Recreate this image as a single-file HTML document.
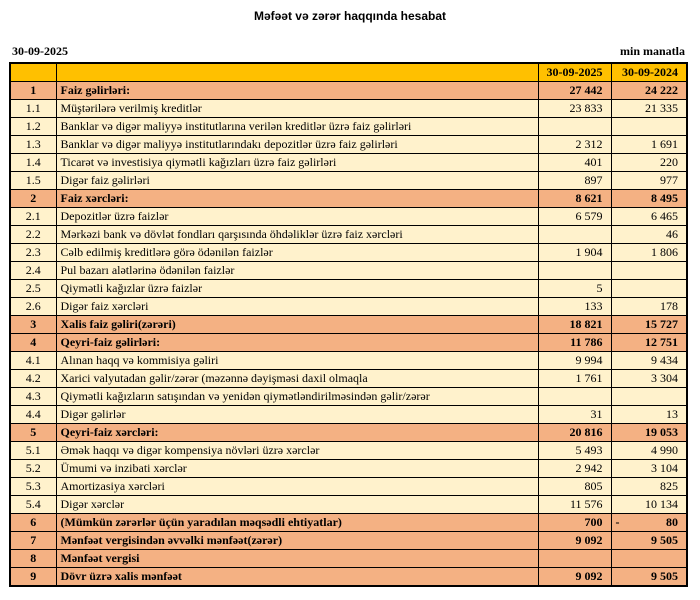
<!DOCTYPE html>
<html><head><meta charset="utf-8"><style>
body{margin:0;width:700px;height:600px;background:#fff;position:relative;font-family:"Liberation Serif",serif;}
.t{position:absolute;top:9px;left:0;width:700px;text-align:center;font:bold 12px "Liberation Sans",sans-serif;}
.d{position:absolute;top:44px;left:12px;font-weight:bold;font-size:12px;}
.m{position:absolute;top:44px;right:15px;font-weight:bold;font-size:12px;}
table{position:absolute;top:62px;left:9px;border-collapse:collapse;border:2px solid #000;width:677px;font-size:12px;table-layout:fixed;}
td{border:1px solid #000;height:17px;padding:0 4px;line-height:17px;white-space:nowrap;overflow:hidden;background:#FFF2CC;}
td:nth-child(1){text-align:center;}
td:nth-child(3),td:nth-child(4){text-align:right;padding-right:8px;}
tr.h td{background:#FFC000;font-weight:bold;}
tr.b td{background:#F4B183;font-weight:bold;}
</style></head><body>
<div class="t">Məfəət və zərər haqqında hesabat</div>
<div class="d">30-09-2025</div>
<div class="m">min manatla</div>
<table>
<colgroup><col style="width:46px"><col style="width:482px"><col style="width:73px"><col style="width:76px"></colgroup>
<tr class="h"><td></td><td></td><td>30-09-2025</td><td>30-09-2024</td></tr>
<tr class="b"><td>1</td><td>Faiz gəlirləri:</td><td>27 442</td><td>24 222</td></tr>
<tr><td>1.1</td><td>Müştərilərə verilmiş kreditlər</td><td>23 833</td><td>21 335</td></tr>
<tr><td>1.2</td><td>Banklar və digər maliyyə institutlarına verilən kreditlər üzrə faiz gəlirləri</td><td></td><td></td></tr>
<tr><td>1.3</td><td>Banklar və digər maliyyə institutlarındakı depozitlər üzrə faiz gəlirləri</td><td>2 312</td><td>1 691</td></tr>
<tr><td>1.4</td><td>Ticarət və investisiya qiymətli kağızları üzrə faiz gəlirləri</td><td>401</td><td>220</td></tr>
<tr><td>1.5</td><td>Digər faiz gəlirləri</td><td>897</td><td>977</td></tr>
<tr class="b"><td>2</td><td>Faiz xərcləri:</td><td>8 621</td><td>8 495</td></tr>
<tr><td>2.1</td><td>Depozitlər üzrə faizlər</td><td>6 579</td><td>6 465</td></tr>
<tr><td>2.2</td><td>Mərkəzi bank və dövlət fondları qarşısında öhdəliklər üzrə faiz xərcləri</td><td></td><td>46</td></tr>
<tr><td>2.3</td><td>Cəlb edilmiş kreditlərə görə ödənilən faizlər</td><td>1 904</td><td>1 806</td></tr>
<tr><td>2.4</td><td>Pul bazarı alətlərinə ödənilən faizlər</td><td></td><td></td></tr>
<tr><td>2.5</td><td>Qiymətli kağızlar üzrə faizlər</td><td>5</td><td></td></tr>
<tr><td>2.6</td><td>Digər faiz xərcləri</td><td>133</td><td>178</td></tr>
<tr class="b"><td>3</td><td>Xalis faiz gəliri(zərəri)</td><td>18 821</td><td>15 727</td></tr>
<tr class="b"><td>4</td><td>Qeyri-faiz gəlirləri:</td><td>11 786</td><td>12 751</td></tr>
<tr><td>4.1</td><td>Alınan haqq və kommisiya gəliri</td><td>9 994</td><td>9 434</td></tr>
<tr><td>4.2</td><td>Xarici valyutadan gəlir/zərər (məzənnə dəyişməsi daxil olmaqla</td><td>1 761</td><td>3 304</td></tr>
<tr><td>4.3</td><td>Qiymətli kağızların satışından və yenidən qiymətləndirilməsindən gəlir/zərər</td><td></td><td></td></tr>
<tr><td>4.4</td><td>Digər gəlirlər</td><td>31</td><td>13</td></tr>
<tr class="b"><td>5</td><td>Qeyri-faiz xərcləri:</td><td>20 816</td><td>19 053</td></tr>
<tr><td>5.1</td><td>Əmək haqqı və digər kompensiya növləri üzrə xərclər</td><td>5 493</td><td>4 990</td></tr>
<tr><td>5.2</td><td>Ümumi və inzibati xərclər</td><td>2 942</td><td>3 104</td></tr>
<tr><td>5.3</td><td>Amortizasiya xərcləri</td><td>805</td><td>825</td></tr>
<tr><td>5.4</td><td>Digər xərclər</td><td>11 576</td><td>10 134</td></tr>
<tr class="b"><td>6</td><td>(Mümkün zərərlər üçün yaradılan məqsədli ehtiyatlar)</td><td>700</td><td><span style="float:left">-</span>80</td></tr>
<tr class="b"><td>7</td><td>Mənfəət vergisindən əvvəlki mənfəət(zərər)</td><td>9 092</td><td>9 505</td></tr>
<tr class="b"><td>8</td><td>Mənfəət vergisi</td><td></td><td></td></tr>
<tr class="b"><td>9</td><td>Dövr üzrə xalis mənfəət</td><td>9 092</td><td>9 505</td></tr>
</table>
</body></html>
